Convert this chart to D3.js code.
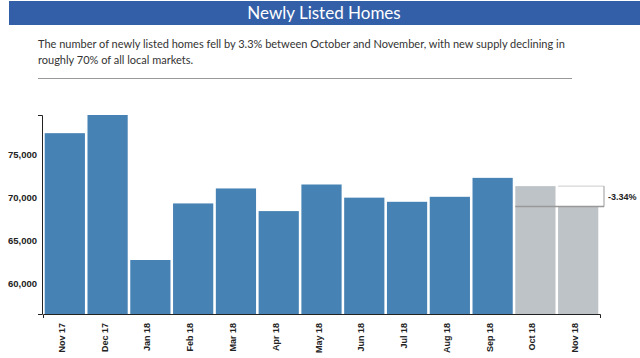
<!DOCTYPE html>
<html>
<head>
<meta charset="utf-8">
<script src="https://cdn.jsdelivr.net/npm/d3@7"></script>
<style>
  html, body { margin: 0; padding: 0; background: #fff; }
  svg { display: block; }
</style>
</head>
<body>
<svg id="chart" width="640" height="358"></svg>
<script>
const title = "Newly Listed Homes";
const description = ["The number of newly listed homes fell by 3.3% between October and November, with new supply declining in",
                     "roughly 70% of all local markets."];
const months = ["Nov 17","Dec 17","Jan 18","Feb 18","Mar 18","Apr 18","May 18","Jun 18","Jul 18","Aug 18","Sep 18","Oct 18","Nov 18"];
const listings = [77440, 79550, 62710, 69280, 71020, 68390, 71480, 69950, 69470, 70050, 72250, 71290, 68910];
const highlighted = ["Oct 18","Nov 18"];
const yTicks = [60000, 65000, 70000, 75000];
const changeLabel = "-3.34%";

const svg = d3.select("#chart");

// Header band
svg.append("rect").attr("x", 9).attr("y", 1).attr("width", 631).attr("height", 24).attr("fill", "#335fa8");
svg.append("text").attr("x", 324).attr("y", 19).attr("text-anchor", "middle")
  .attr("font-family", "Lato, 'Open Sans', sans-serif").attr("font-size", 17).attr("fill", "#fff")
  .text(title);

// Description
svg.selectAll("text.desc").data(description).join("text").attr("class", "desc")
  .attr("x", 38).attr("y", (d, i) => 48 + i * 16)
  .attr("font-family", "Lato, 'Open Sans', sans-serif").attr("font-size", 11).attr("fill", "#333")
  .text(d => d);
svg.append("line").attr("x1", 38).attr("x2", 572).attr("y1", 78.5).attr("y2", 78.5)
  .attr("stroke", "#999").attr("stroke-width", 1);

// Scales
const x = d3.scaleBand().domain(months).range([43, 600]).paddingInner(0.06).paddingOuter(0.04);
const y = d3.scaleLinear().domain([d3.min(listings) * 0.9, d3.max(listings)]).range([314, 115]);

const fontAxis = "'Liberation Sans', Arial, sans-serif";

// X axis (drawn under bars)
const xAxis = svg.append("g").attr("transform", "translate(0,314)")
  .call(d3.axisBottom(x).tickSizeInner(0).tickSizeOuter(4));
xAxis.select(".domain").attr("stroke", "#222");
xAxis.selectAll(".tick text")
  .attr("font-family", fontAxis).attr("font-size", 9).attr("font-weight", "bold").attr("fill", "#222")
  .attr("transform", "rotate(-90)").attr("text-anchor", "end")
  .attr("x", -9).attr("y", 0).attr("dy", "0");

// Bars
svg.selectAll("rect.bar").data(months).join("rect").attr("class", "bar")
  .attr("x", d => x(d)).attr("width", x.bandwidth())
  .attr("y", (d, i) => y(listings[i]))
  .attr("height", (d, i) => y.range()[0] - y(listings[i]))
  .attr("fill", d => highlighted.includes(d) ? "#bec3c7" : "#4682b4");

// Y axis
const yAxis = svg.append("g").attr("transform", "translate(42,0)")
  .call(d3.axisLeft(y).tickValues(yTicks).tickFormat(d3.format(",")).tickSizeInner(0).tickSizeOuter(4));
yAxis.select(".domain").attr("stroke", "#222");
yAxis.selectAll(".tick text")
  .attr("font-family", fontAxis).attr("font-size", 9.5).attr("font-weight", "bold").attr("fill", "#222")
  .attr("x", -5);

// Change bracket
const i0 = months.indexOf(highlighted[0]), i1 = months.indexOf(highlighted[1]);
const yA = y(listings[i0]), yB = y(listings[i1]);
const bx = x.range()[1] + 4;
svg.append("line").attr("x1", x(highlighted[1])).attr("x2", bx).attr("y1", yA).attr("y2", yA)
  .attr("stroke", "#ccc").attr("stroke-width", 1);
svg.append("line").attr("x1", x(highlighted[0])).attr("x2", bx).attr("y1", yB).attr("y2", yB)
  .attr("stroke", "#999").attr("stroke-width", 1.5);
svg.append("line").attr("x1", bx).attr("x2", bx).attr("y1", yA).attr("y2", yB)
  .attr("stroke", "#999").attr("stroke-width", 1);
svg.append("text").attr("x", bx + 4).attr("y", (yA + yB) / 2).attr("dy", "0.35em")
  .attr("font-family", fontAxis).attr("font-size", 9).attr("font-weight", "bold").attr("fill", "#222")
  .text(changeLabel);
</script>
</body>
</html>
